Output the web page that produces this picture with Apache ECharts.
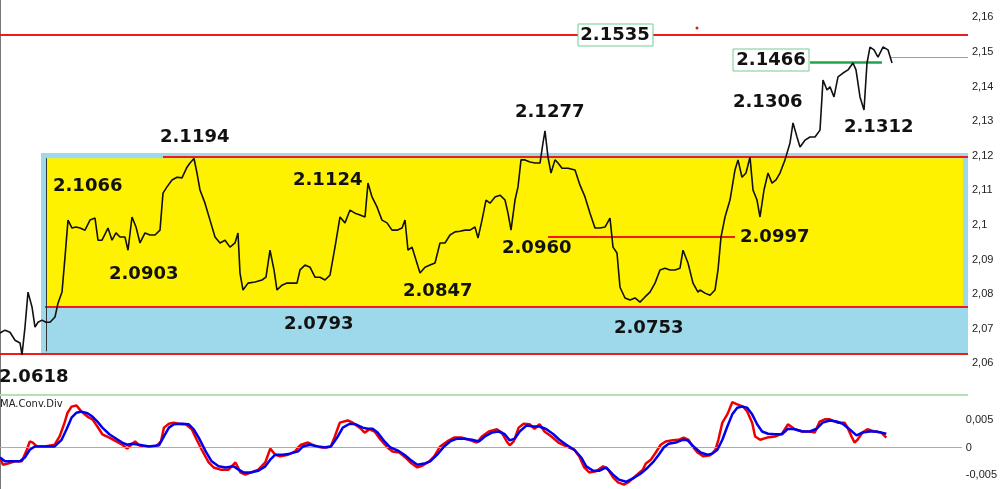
<!DOCTYPE html>
<html><head><meta charset="utf-8">
<script src="https://cdn.jsdelivr.net/npm/echarts@6/dist/echarts.min.js"></script>
<style>html,body{margin:0;padding:0;background:#fff}#c{width:1000px;height:489px}</style>
</head><body><div id="c"></div>
<script>
// ---- price (bar index, close) ----
const priceT = [0,5,10,15,20,22,25,28,32,35,38,42,46,50,55,58,62,65,68,72,76,80,85,90,95,98,102,108,112,116,120,125,128,132,136,140,145,150,155,160,163,167,172,177,182,187,190,194,197,200,205,210,215,220,225,230,235,238,240,243,248,255,262,266,270,274,277,282,287,292,297,300,305,310,315,320,325,330,335,340,345,350,355,360,365,368,372,377,382,387,392,397,402,405,408,412,416,420,425,430,435,440,445,450,455,460,465,470,475,478,482,486,490,495,500,505,508,511,515,518,521,525,530,535,540,543,545,548,551,555,558,562,568,575,580,585,590,595,600,605,610,613,617,620,625,630,635,640,645,650,655,660,665,670,675,680,683,688,693,698,700,705,710,715,718,721,725,730,735,738,742,746,750,753,757,760,764,768,772,776,780,785,790,793,797,800,805,810,815,820,823,827,830,834,838,843,848,853,856,860,864,867,870,874,878,883,888,892];
const priceV = [2.0688,2.0696,2.0690,2.0667,2.0659,2.0625,2.0705,2.0806,2.0763,2.0705,2.0719,2.0725,2.0719,2.0719,2.0734,2.0774,2.0806,2.0907,2.1014,2.0991,2.0994,2.0991,2.0985,2.1014,2.1020,2.0956,2.0956,2.0991,2.0956,2.0977,2.0965,2.0965,2.0927,2.1023,2.0994,2.0948,2.0977,2.0971,2.0971,2.0985,2.1092,2.1110,2.1130,2.1138,2.1136,2.1167,2.1179,2.1192,2.1150,2.1101,2.1063,2.1014,2.0965,2.0948,2.0956,2.0936,2.0948,2.0977,2.0861,2.0812,2.0832,2.0835,2.0841,2.0849,2.0927,2.0870,2.0812,2.0826,2.0832,2.0832,2.0832,2.0870,2.0884,2.0878,2.0849,2.0849,2.0841,2.0855,2.0936,2.1023,2.1006,2.1043,2.1034,2.1029,2.1023,2.1121,2.1081,2.1052,2.1014,2.1006,2.0985,2.0985,2.0991,2.1014,2.0927,2.0936,2.0899,2.0861,2.0878,2.0884,2.0890,2.0948,2.0948,2.0971,2.0980,2.0982,2.0985,2.0985,2.0994,2.0962,2.1014,2.1072,2.1063,2.1081,2.1086,2.1072,2.1034,2.0985,2.1072,2.1110,2.1188,2.1188,2.1182,2.1179,2.1179,2.1237,2.1272,2.1196,2.1150,2.1188,2.1179,2.1164,2.1164,2.1159,2.1115,2.1081,2.1034,2.0991,2.0991,2.0994,2.1020,2.0936,2.0919,2.0820,2.0789,2.0783,2.0789,2.0777,2.0792,2.0806,2.0832,2.0870,2.0875,2.0870,2.0870,2.0875,2.0927,2.0890,2.0832,2.0806,2.0812,2.0803,2.0797,2.0812,2.0870,2.0965,2.1023,2.1072,2.1159,2.1188,2.1138,2.1150,2.1196,2.1101,2.1072,2.1023,2.1101,2.1150,2.1121,2.1130,2.1150,2.1188,2.1237,2.1295,2.1254,2.1225,2.1245,2.1254,2.1254,2.1274,2.1419,2.1390,2.1399,2.1370,2.1428,2.1439,2.1448,2.1468,2.1448,2.1370,2.1332,2.1468,2.1514,2.1506,2.1485,2.1514,2.1506,2.1468];

// ---- MACD main (red) and signal (blue) ----
const macdT = [0,3,8,15,22,27,30,33,37,45,55,60,65,68,72,77,82,88,93,98,103,110,117,123,128,132,136,140,145,150,157,162,165,170,175,180,187,193,198,203,210,215,222,230,237,242,247,253,260,267,272,277,282,290,297,300,303,310,318,325,333,337,342,350,355,362,367,372,377,383,390,395,402,408,413,420,425,432,437,443,450,457,465,472,480,485,492,500,505,510,513,517,522,527,533,538,543,548,555,562,570,578,583,588,593,600,607,612,617,622,628,633,640,647,650,655,660,665,670,677,683,688,693,697,702,708,715,720,723,727,732,737,742,748,752,757,760,765,772,780,787,793,800,807,815,820,825,830,835,843,850,853,857,860,863,868,873,880,887,892];
const macdV = [-0.0018,-0.0031,-0.0029,-0.0025,-0.0025,-0.0004,0.0011,0.0009,0.0002,0.0002,0.0005,0.0020,0.0045,0.0063,0.0074,0.0076,0.0065,0.0056,0.0051,0.0038,0.0024,0.0018,0.0011,0.0005,-0.0002,0.0005,0.0011,0.0004,0.0002,0.0002,0.0002,0.0011,0.0036,0.0043,0.0045,0.0043,0.0042,0.0033,0.0014,-0.0004,-0.0027,-0.0036,-0.0040,-0.0040,-0.0027,-0.0045,-0.0049,-0.0045,-0.0040,-0.0027,-0.0002,-0.0013,-0.0016,-0.0013,-0.0007,0,0.0005,0.0009,0.0002,0,0.0002,0.0020,0.0045,0.0049,0.0045,0.0036,0.0027,0.0033,0.0029,0.0014,0,-0.0007,-0.0009,-0.0018,-0.0027,-0.0036,-0.0033,-0.0025,-0.0016,0.0002,0.0011,0.0018,0.0018,0.0014,0.0009,0.0020,0.0029,0.0033,0.0027,0.0011,0.0004,0.0011,0.0036,0.0043,0.0042,0.0034,0.0042,0.0029,0.0020,0.0009,0.0002,-0.0004,-0.0016,-0.0036,-0.0045,-0.0043,-0.0034,-0.0040,-0.0054,-0.0063,-0.0067,-0.0062,-0.0051,-0.0040,-0.0029,-0.0022,-0.0009,0.0005,0.0011,0.0013,0.0014,0.0018,0.0014,0.0002,-0.0009,-0.0016,-0.0014,-0.0004,0.0014,0.0045,0.0060,0.0082,0.0078,0.0074,0.0065,0.0045,0.0020,0.0014,0.0018,0.0020,0.0025,0.0042,0.0033,0.0029,0.0029,0.0027,0.0047,0.0051,0.0051,0.0045,0.0045,0.0036,0.0020,0.0009,0.0014,0.0027,0.0033,0.0029,0.0027,0.0018];
const sigT = [0,5,10,20,25,30,35,45,55,62,67,72,77,82,88,93,98,103,110,117,123,128,133,140,150,160,165,170,175,182,190,195,200,207,213,220,227,235,240,245,252,260,267,272,277,285,292,300,305,312,320,328,333,340,345,352,358,365,370,375,380,387,393,400,407,413,420,427,433,440,447,453,460,467,475,482,488,495,502,508,513,518,523,530,537,543,550,557,563,570,578,585,590,597,603,610,617,623,630,637,645,652,658,663,668,673,680,687,692,698,705,712,717,722,727,732,737,742,747,752,757,762,767,773,780,787,793,800,808,815,822,828,835,842,848,855,862,868,875,882,887,892];
const sigV = [-0.0018,-0.0025,-0.0025,-0.0025,-0.0018,-0.0004,0.0002,0.0002,0.0002,0.0014,0.0033,0.0054,0.0063,0.0065,0.0062,0.0056,0.0047,0.0036,0.0024,0.0016,0.0009,0.0005,0.0007,0.0005,0.0002,0.0004,0.0020,0.0036,0.0042,0.0043,0.0042,0.0033,0.0018,-0.0007,-0.0025,-0.0034,-0.0036,-0.0034,-0.0040,-0.0045,-0.0045,-0.0042,-0.0034,-0.0022,-0.0013,-0.0013,-0.0011,-0.0007,0.0002,0.0005,0.0002,0,0.0002,0.0020,0.0036,0.0043,0.0042,0.0036,0.0034,0.0034,0.0027,0.0011,0,-0.0005,-0.0013,-0.0022,-0.0031,-0.0029,-0.0025,-0.0013,0.0002,0.0011,0.0016,0.0016,0.0014,0.0011,0.0020,0.0027,0.0029,0.0024,0.0013,0.0016,0.0029,0.0040,0.0038,0.0038,0.0033,0.0024,0.0014,0.0005,-0.0004,-0.0018,-0.0034,-0.0042,-0.0042,-0.0036,-0.0049,-0.0058,-0.0062,-0.0056,-0.0047,-0.0036,-0.0025,-0.0013,0,0.0007,0.0009,0.0014,0.0013,0.0002,-0.0009,-0.0013,-0.0011,-0.0004,0.0014,0.0038,0.0060,0.0072,0.0074,0.0072,0.0060,0.0042,0.0029,0.0025,0.0024,0.0024,0.0034,0.0033,0.0029,0.0029,0.0034,0.0045,0.0049,0.0047,0.0043,0.0033,0.0022,0.0027,0.0029,0.0029,0.0027,0.0025];

// ---- axes ticks ----
const priceTickLabels = [2.06,2.07,2.08,2.09,2.10,2.11,2.12,2.13,2.14,2.15,2.16];
const priceTickMarks = [2.055,2.06,2.065,2.07,2.075,2.08,2.085,2.09,2.095,2.10,2.105,2.11,2.115,2.12,2.125,2.13,2.135,2.14,2.145,2.15,2.155,2.16];
const macdTickLabels = [-0.005,0,0.005];
const macdTickMarks = [-0.005,-0.0025,0,0.0025,0.005,0.0075];

// ---- price levels drawn on chart ----
const zoneOuterTop = 2.1208, zoneOuterBottom = 2.0624;
const zoneInnerTop = 2.1193, zoneInnerBottom = 2.0766;
const lvlTop = 2.1549, lvlRes = 2.1196, lvlSup = 2.0763, lvlLow = 2.0627, lvlMid = 2.0965;
const lvlGreen = 2.1471, lvlLast = 2.1485;

// ---- annotation texts ----
const labelTexts = ['2.1535','2.1466','2.1306','2.1312','2.1277','2.1194','2.1066','2.0903','2.1124','2.0847','2.0793','2.0960','2.0753','2.0997','2.0618'];

const fmt = v => String(parseFloat(v.toFixed(4))).replace('.', ',');
const pairs = (t, v) => t.map((x, i) => [x, v[i]]);

const chart = echarts.init(document.getElementById('c'), null, {renderer: 'canvas'});
const RED = '#ee1c1c';
function seg(x1, y1, x2, y2, style) {
  return [{coord: [x1, y1], lineStyle: style}, {coord: [x2, y2]}];
}
const redS = {color: RED, width: 2, type: 'solid'};
const labelPos = [
  [615, 35, 'center'], [771, 60, 'center'], [733, 102, 'left'], [844, 127, 'left'],
  [515, 112, 'left'], [160, 137, 'left'], [53, 186, 'left'], [109, 274, 'left'],
  [293, 180, 'left'], [403, 291, 'left'], [284, 324, 'left'], [502, 248, 'left'],
  [614, 328, 'left'], [740, 237, 'left'], [-1, 377, 'left']
];
const txtEls = labelTexts.map((t, i) => ({
  type: 'text', z: 100, x: labelPos[i][0], y: labelPos[i][1],
  style: {text: t, fill: '#111', font: 'bold 18px "DejaVu Sans"', align: labelPos[i][2], verticalAlign: 'middle'}
}));

const option = {
  animation: false,
  grid: [
    {left: 0, right: 32, top: 0, height: 398, containLabel: false},
    {left: 0, right: 32, top: 395, bottom: 0, containLabel: false}
  ],
  xAxis: [
    {type: 'value', gridIndex: 0, min: 0, max: 968, show: false},
    {type: 'value', gridIndex: 1, min: 0, max: 968, show: false}
  ],
  yAxis: [
    {type: 'value', gridIndex: 0, position: 'right', min: 2.05, max: 2.165, scale: true,
     axisLine: {show: true, lineStyle: {color: '#777', width: 1}},
     axisTick: {show: true, inside: true, length: 4, lineStyle: {color: '#777'}, customValues: priceTickMarks},
     axisLabel: {show: true, margin: 4, color: '#222', fontSize: 11, fontFamily: 'Liberation Sans', customValues: priceTickLabels, formatter: fmt},
     splitLine: {show: false}},
    {type: 'value', gridIndex: 1, position: 'right', min: -0.0075, max: 0.0095,
     axisLine: {show: true, lineStyle: {color: '#777', width: 1}},
     axisTick: {show: true, inside: true, length: 4, lineStyle: {color: '#777'}, customValues: macdTickMarks},
     axisLabel: {show: true, margin: 4, color: '#222', fontSize: 11, fontFamily: 'Liberation Sans', customValues: macdTickLabels, formatter: fmt},
     splitLine: {show: false}}
  ],
  graphic: [
    {type: 'line', z: 50, shape: {x1: 0, y1: 395, x2: 968, y2: 395}, style: {stroke: '#b4e0b4', lineWidth: 2}},
    {type: 'rect', z: 99, shape: {x: 578, y: 24, width: 75, height: 22}, style: {fill: '#fff', stroke: '#6fcf8f', lineWidth: 1}},
    {type: 'rect', z: 99, shape: {x: 733, y: 49, width: 76, height: 22}, style: {fill: '#fff', stroke: '#6fcf8f', lineWidth: 1}},
    {type: 'circle', z: 99, shape: {cx: 697, cy: 28, r: 1.5}, style: {fill: '#c22'}},
    {type: 'text', z: 100, x: 0, y: 404, style: {text: 'MA.Conv.Div', fill: '#222', font: '10px "DejaVu Sans"', verticalAlign: 'middle'}}
  ].concat(txtEls),
  series: [
    {type: 'line', xAxisIndex: 0, yAxisIndex: 0, data: [], z: 1, silent: true,
     markArea: {silent: true, label: {show: false},
       data: [
         [{coord: [41, zoneOuterTop], itemStyle: {color: '#9dd9ea', opacity: 1}}, {coord: [968, zoneOuterBottom]}],
         [{coord: [46, zoneInnerTop], itemStyle: {color: '#fff200', opacity: 1}}, {coord: [963, zoneInnerBottom]}]
       ]}},
    {type: 'line', xAxisIndex: 0, yAxisIndex: 0, data: [], z: 3, silent: true,
     markLine: {silent: true, symbol: ['none', 'none'], label: {show: false},
       data: [
         seg(0, lvlTop, 968, lvlTop, redS),
         seg(163, lvlRes, 968, lvlRes, redS),
         seg(45, lvlSup, 968, lvlSup, redS),
         seg(0, lvlLow, 968, lvlLow, redS),
         seg(548, lvlMid, 735, lvlMid, redS),
         seg(46, zoneInnerTop, 46, lvlLow + 0.0008, {color: '#333', width: 1, type: 'solid'}),
         seg(810, lvlGreen, 882, lvlGreen, {color: '#1fa64a', width: 2.5, type: 'solid'}),
         seg(890, lvlLast, 968, lvlLast, {color: '#9a9ac8', width: 1, type: 'solid'})
       ]}},
    {name: 'Price', type: 'line', xAxisIndex: 0, yAxisIndex: 0, z: 5, data: pairs(priceT, priceV),
     showSymbol: false, symbol: 'none', lineStyle: {color: '#111', width: 1.6}},
    {type: 'line', xAxisIndex: 1, yAxisIndex: 1, data: [], z: 2, silent: true,
     markLine: {silent: true, symbol: ['none', 'none'], label: {show: false},
       data: [seg(0, 0, 968, 0, {color: '#d49a9a', width: 1, type: 'solid'})]}},
    {name: 'MACD', type: 'line', xAxisIndex: 1, yAxisIndex: 1, z: 4, data: pairs(macdT, macdV),
     showSymbol: false, symbol: 'none', lineStyle: {color: '#ee0000', width: 2.5}},
    {name: 'Signal', type: 'line', xAxisIndex: 1, yAxisIndex: 1, z: 5, data: pairs(sigT, sigV),
     showSymbol: false, symbol: 'none', lineStyle: {color: '#0000ee', width: 2.5}}
  ]
};
chart.setOption(option);
</script></body></html>
